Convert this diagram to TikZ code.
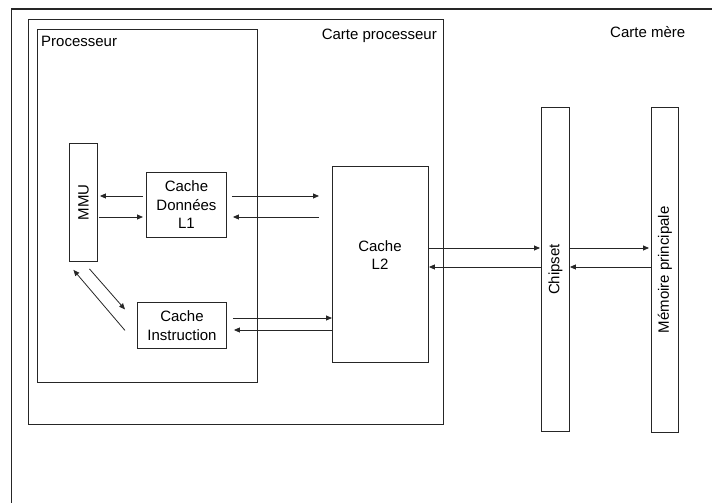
\documentclass[tikz,border=0pt]{standalone}
\usepackage{fontspec}
\setmainfont{Liberation Sans}
\usetikzlibrary{arrows.meta,calc}
\begin{document}
\begin{tikzpicture}[x=1bp,y=-1bp,
  box/.style={draw=black!85, line width=0.9bp, inner sep=0pt, anchor=north west},
  lbl/.style={font=\fontsize{15bp}{18.5bp}\selectfont, align=center, inner sep=0pt},
  arr/.style={draw=black!85, line width=0.8bp, -{Triangle[length=6bp,width=5bp]}}]
\useasboundingbox (0,0) rectangle (712,503);
\begin{scope}
  \clip (0,0) rectangle (712,503);
  \node[box, line width=1.1bp, minimum width=730bp, minimum height=520bp] (mere) at (10.5,8.5) {};
\end{scope}
% boxes
\node[box, line width=1.1bp, minimum width=415bp, minimum height=405bp] (cp) at (28,19) {};
\node[box, minimum width=220bp, minimum height=353bp] (proc) at (37,29) {};
\node[box, minimum width=28bp, minimum height=118bp] (mmu) at (69,143) {};
\node[box, lbl, minimum width=80bp, minimum height=65bp] (dl) at (146,172) {Cache\\Données\\L1};
\node[box, lbl, minimum width=89bp, minimum height=46bp] (ci) at (137,302) {Cache\\Instruction};
\node[box, minimum width=96bp, minimum height=196bp] (ltwo) at (332,166) {};
\node[box, minimum width=28bp, minimum height=324bp] (chip) at (541,107) {};
\node[box, minimum width=27bp, minimum height=325bp] (mem) at (651,107) {};
% labels
\node[lbl, anchor=base east] (tcp) at (437,39.5) {Carte processeur};
\node[lbl, anchor=base west] (tproc) at (41,47) {Processeur};
\node[lbl, anchor=base west] (tmere) at (610,38) {Carte mère};
\node[lbl, rotate=90] (tmmu) at (mmu.center) {MMU};
\node[lbl] (tltwo) at (380,255) {Cache\\L2};
\node[lbl, rotate=90] (tchip) at (chip.center) {Chipset};
\node[lbl, rotate=90] (tmem) at (mem.center) {Mémoire principale};
% arrows
\draw[arr, shorten <=3bp, shorten >=2bp] (dl.west |- 0,196) -- (mmu.east |- 0,196);
\draw[arr, shorten <=1bp, shorten >=3bp] (mmu.east |- 0,217) -- (dl.west |- 0,217);
\draw[arr, shorten <=5bp, shorten >=13bp] (dl.east |- 0,196) -- (ltwo.west |- 0,196);
\draw[arr, shorten <=13bp, shorten >=6bp] (ltwo.west |- 0,217) -- (dl.east |- 0,217);
\draw[arr, shorten <=6bp] (ci.east |- 0,318) -- (ltwo.west |- 0,318);
\draw[arr, shorten >=7bp] (ltwo.west |- 0,330) -- (ci.east |- 0,330);
\draw[arr] ($(ci.west)+(-12,5)$) -- ($(mmu.south)+(-10,8)$);
\draw[arr] ($(mmu.south)+(6,7)$) -- ($(ci.west)+(-12,-16)$);
\draw[arr, shorten >=1bp] (ltwo.east |- 0,248) -- (chip.west |- 0,248);
\draw[arr] (chip.west |- 0,267) -- (ltwo.east |- 0,267);
\draw[arr, shorten >=2bp] (chip.east |- 0,248) -- (mem.west |- 0,248);
\draw[arr] (mem.west |- 0,267) -- (chip.east |- 0,267);
\end{tikzpicture}
\end{document}
